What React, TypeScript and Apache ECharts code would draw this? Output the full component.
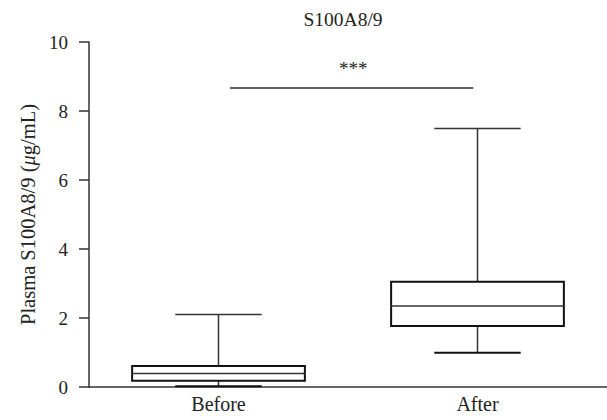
import React, { useEffect, useRef } from "react";
import * as echarts from "echarts";

const categories = ["Before", "After"];
const mins = [0.02, 0.99];
const q1s = [0.18, 1.77];
const medians = [0.39, 2.35];
const q3s = [0.61, 3.05];
const maxs = [2.1, 7.49];
const yTicks = [0, 2, 4, 6, 8, 10];
const sigValue = 8.67;
const sigTextValue = 9.27;
const sigLabel = "***";
const titleText = "S100A8/9";

const FONT = "'Liberation Serif', 'Times New Roman', serif";

export default function App() {
  const ref = useRef<HTMLDivElement>(null);
  useEffect(() => {
    if (!ref.current) return;
    const chart = echarts.init(ref.current, undefined, { renderer: "svg" });
    const boxData = categories.map((_, i) => [i, mins[i], q1s[i], medians[i], q3s[i], maxs[i]]);
    chart.setOption({
      animation: false,
      backgroundColor: "#fff",
      graphic: [
        {
          type: "text",
          x: 343,
          y: 9,
          style: { text: titleText, font: `19.5px ${FONT}`, fill: "#222", textAlign: "center" },
        },
      ],
      grid: { left: 89, right: 0, top: 42, bottom: 33, containLabel: false },
      xAxis: {
        type: "category",
        data: categories,
        axisLine: { lineStyle: { color: "#333", width: 1.5 } },
        axisTick: { show: false },
        axisLabel: { fontSize: 20, fontFamily: FONT, color: "#222", margin: 7 },
        splitLine: { show: false },
      },
      yAxis: {
        type: "value",
        min: yTicks[0],
        max: yTicks[yTicks.length - 1],
        interval: 2,
        axisLine: { show: true, lineStyle: { color: "#333", width: 1.5 } },
        axisTick: { show: true, length: 10, lineStyle: { color: "#333", width: 1.5 } },
        axisLabel: { fontSize: 19, fontFamily: FONT, color: "#222", margin: 21 },
        splitLine: { show: false },
        name: "Plasma S100A8/9 ({i|μ}g/mL)",
        nameLocation: "middle",
        nameGap: 50,
        nameTextStyle: {
          fontSize: 20.5,
          fontFamily: FONT,
          color: "#222",
          rich: { i: { fontStyle: "italic", fontSize: 20.5, fontFamily: FONT, color: "#222" } },
        },
      },
      series: [
        {
          type: "custom",
          data: boxData,
          encode: { x: 0, y: [1, 2, 3, 4, 5] },
          renderItem: (params: any, api: any) => {
            const idx = api.value(0);
            const band = api.size([1, 0])[0];
            const bw = band * 0.667;
            const cw = bw / 2;
            const pMin = api.coord([idx, api.value(1)]);
            const pQ1 = api.coord([idx, api.value(2)]);
            const pMed = api.coord([idx, api.value(3)]);
            const pQ3 = api.coord([idx, api.value(4)]);
            const pMax = api.coord([idx, api.value(5)]);
            const cx = pMed[0];
            const wStyle = { stroke: "#333", lineWidth: 1.5 };
            return {
              type: "group",
              children: [
                { type: "line", shape: { x1: cx, y1: pQ3[1], x2: cx, y2: pMax[1] }, style: wStyle },
                { type: "line", shape: { x1: cx, y1: pQ1[1], x2: cx, y2: pMin[1] }, style: wStyle },
                { type: "line", shape: { x1: cx - cw / 2, y1: pMax[1], x2: cx + cw / 2, y2: pMax[1] }, style: wStyle },
                { type: "line", shape: { x1: cx - cw / 2, y1: pMin[1], x2: cx + cw / 2, y2: pMin[1] }, style: { stroke: "#111", lineWidth: 2 } },
                {
                  type: "rect",
                  shape: { x: cx - bw / 2, y: pQ3[1], width: bw, height: pQ1[1] - pQ3[1] },
                  style: { fill: "#fff", stroke: "#111", lineWidth: 2 },
                },
                { type: "line", shape: { x1: cx - bw / 2, y1: pMed[1], x2: cx + bw / 2, y2: pMed[1] }, style: wStyle },
              ],
            };
          },
        },
        {
          type: "custom",
          data: [[0, 1, sigValue, sigTextValue]],
          encode: { x: [0, 1], y: [2, 3] },
          renderItem: (params: any, api: any) => {
            const band = api.size([1, 0])[0];
            const a = api.coord([api.value(0), api.value(2)]);
            const b = api.coord([api.value(1), api.value(2)]);
            const t = api.coord([api.value(0), api.value(3)]);
            const x1 = a[0] + band * 0.044;
            const x2 = b[0] - band * 0.016;
            return {
              type: "group",
              children: [
                { type: "line", shape: { x1, y1: a[1], x2, y2: a[1] }, style: { stroke: "#333", lineWidth: 1.5 } },
                {
                  type: "text",
                  x: (a[0] + b[0]) / 2 + band * 0.02,
                  y: t[1] + 1,
                  style: {
                    text: sigLabel,
                    font: `19px ${FONT}`,
                    fill: "#222",
                    textAlign: "center",
                    textVerticalAlign: "middle",
                  },
                },
              ],
            };
          },
        },
      ],
    });
    return () => chart.dispose();
  }, []);
  return <div ref={ref} style={{ width: 607, height: 420, position: "absolute", left: 0, top: 0 }} />;
}
